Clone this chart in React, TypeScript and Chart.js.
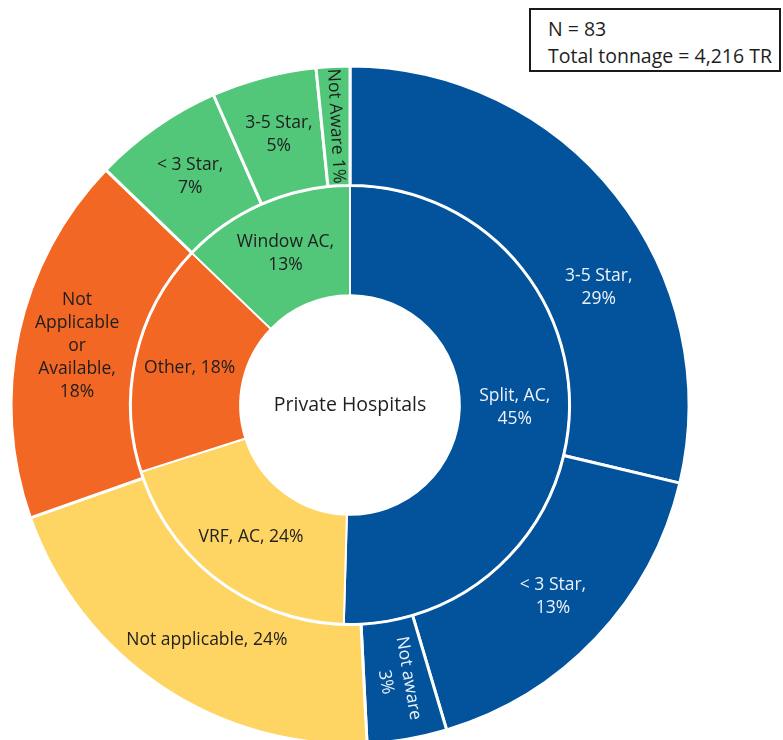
import React, { useEffect, useRef } from 'react';
import { Chart, registerables } from 'chart.js';

Chart.register(...registerables);

// ---- data (arc shares as drawn in the reference, in % of the full circle) ----
const centerTitle = 'Private Hospitals';
const noteLines = ['N = 83', 'Total tonnage = 4,216 TR'];

const innerCategories = ['Split, AC', 'VRF, AC', 'Other', 'Window AC'];
const innerShares = [50.4, 19.6, 17.1, 12.8];
const innerLabelLines = [['Split, AC,', '45%'], ['VRF, AC, 24%'], ['Other, 18%'], ['Window AC,', '13%']];

const outerCategories = ['3-5 Star', '< 3 Star', 'Not aware', 'Not applicable', 'Not Applicable or Available', '< 3 Star', '3-5 Star', 'Not Aware'];
const outerParent = [0, 0, 0, 1, 2, 3, 3, 3];
const outerShares = [28.7, 16.7, 3.8, 20.4, 17.6, 6.2, 5.0, 1.6];
const outerLabelLines = [
  ['3-5 Star,', '29%'],
  ['< 3 Star,', '13%'],
  ['Not aware', '3%'],
  ['Not applicable, 24%'],
  ['Not', 'Applicable', 'or', 'Available,', '18%'],
  ['< 3 Star,', '7%'],
  ['3-5 Star,', '5%'],
  ['Not Aware 1%'],
];

// ---- styles ----
const FONT = '"Open Sans", Lato, sans-serif';
const palette = ['#02529C', '#FED462', '#F26724', '#52C77A'];
const textColors = ['#EEF2F8', '#222222', '#1E1E1E', '#1E1E1E'];
const outerRadial = [false, false, true, false, false, false, false, true];
const outerNudge: Record<number, { dAngle?: number; dr?: number }> = { 0: { dAngle: 13, dr: -4 }, 3: { dAngle: -2.5, dr: -4 } };

const labelPlugin = {
  id: 'sunburstLabels',
  afterDatasetsDraw(chart: any) {
    const ctx = chart.ctx as CanvasRenderingContext2D;
    ctx.save();
    ctx.textAlign = 'center';
    ctx.textBaseline = 'middle';
    ctx.font = `17.5px ${FONT}`;
    const rings = [
      { lines: outerLabelLines, parent: outerParent, radial: outerRadial, nudge: outerNudge },
      { lines: innerLabelLines, parent: [0, 1, 2, 3], radial: [false, false, false, false], nudge: {} as Record<number, any> },
    ];
    rings.forEach((ring, di) => {
      const meta = chart.getDatasetMeta(di);
      meta.data.forEach((arc: any, i: number) => {
        const p = arc.getProps(['x', 'y', 'startAngle', 'endAngle', 'innerRadius', 'outerRadius'], true);
        const n = ring.nudge[i] || {};
        const mid = (p.startAngle + p.endAngle) / 2 + ((n.dAngle || 0) * Math.PI) / 180;
        const r = (p.innerRadius + p.outerRadius) / 2 + (n.dr || 0);
        const cx = p.x + Math.cos(mid) * r;
        const cy = p.y + Math.sin(mid) * r;
        const lines = ring.lines[i];
        ctx.fillStyle = textColors[ring.parent[i]];
        ctx.save();
        ctx.translate(cx, cy);
        if (ring.radial[i]) {
          let a = mid;
          if (Math.sin(a) < 0) a += Math.PI;
          ctx.rotate(a);
        }
        const lh = 23;
        lines.forEach((t: string, k: number) => ctx.fillText(t, 0, (k - (lines.length - 1) / 2) * lh));
        ctx.restore();
      });
    });
    const m = chart.getDatasetMeta(0).data[0];
    ctx.fillStyle = '#1E1E1E';
    ctx.font = `19.5px ${FONT}`;
    ctx.fillText(centerTitle, m.x, m.y);
    ctx.restore();
  },
};

export default function App() {
  const ref = useRef<HTMLCanvasElement>(null);
  useEffect(() => {
    const chart = new Chart(ref.current!, {
      type: 'doughnut',
      data: {
        labels: outerCategories,
        datasets: [
          {
            label: 'Rating',
            data: outerShares,
            backgroundColor: outerParent.map((p) => palette[p]),
            borderColor: '#FFFFFF',
            borderWidth: 3,
            weight: 119.5,
            clip: false,
          } as any,
          {
            label: 'AC type',
            data: innerShares,
            backgroundColor: palette,
            borderColor: '#FFFFFF',
            borderWidth: 2,
            weight: 109.7,
            clip: false,
          } as any,
        ],
      },
      options: {
        responsive: false,
        animation: false,
        radius: 339,
        cutout: '32.4%',
        layout: { padding: { left: 0, right: 83, top: 70, bottom: 0 } },
        plugins: { legend: { display: false }, tooltip: { enabled: false } },
      } as any,
      plugins: [labelPlugin],
    });
    return () => chart.destroy();
  }, []);

  return (
    <div style={{ position: 'absolute', left: 0, top: 0, width: 783, height: 740, background: '#fff', overflow: 'hidden' }}>
      <canvas ref={ref} width={783} height={740} style={{ width: 783, height: 740, display: 'block' }} />
      <div
        style={{
          position: 'absolute',
          left: 529,
          top: 8,
          width: 252,
          height: 64,
          boxSizing: 'border-box',
          border: '2px solid #1A1A1A',
          padding: '6px 0 0 17px',
          font: `19.5px ${FONT}`,
          lineHeight: '26.5px',
          color: '#1E1E1E',
          background: '#fff',
          whiteSpace: 'nowrap',
        }}
      >
        {noteLines.map((t) => (
          <div key={t}>{t}</div>
        ))}
      </div>
    </div>
  );
}
